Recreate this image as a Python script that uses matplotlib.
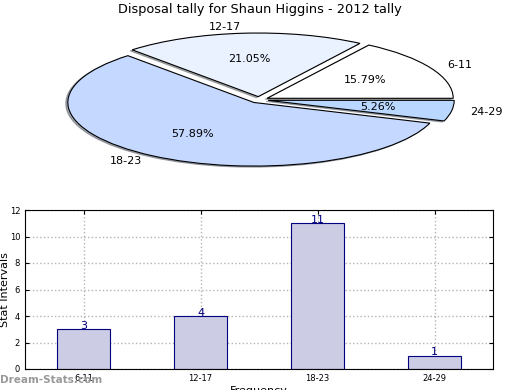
import matplotlib
matplotlib.use("Agg")
import matplotlib.pyplot as plt

# data
groups = ["6-11", "12-17", "18-23", "24-29"]
counts = [3, 4, 11, 1]
pie_colors = ["#ffffff", "#eaf1ff", "#c5d8ff", "#b9d7ff"]

W, H = 520, 390
fig = plt.figure(figsize=(W / 100, H / 100), dpi=100)

# pie (drawn squashed into an ellipse)
ax1 = fig.add_axes([0, 1 - 175 / H, 1, 150 / H])
ax1.pie(counts, labels=groups, colors=pie_colors, autopct="%.2f%%",
        explode=[0.05] * 4, shadow=dict(ox=-0.008, oy=-0.012, shade=0.6),
        startangle=0,
        wedgeprops=dict(edgecolor="black", linewidth=0.8),
        textprops=dict(fontsize=8))
ax1.set_aspect("auto")
ax1.set_xlim(-1.392, 1.403)
ax1.set_ylim(-1.182, 1.176)
ax1.axis("off")
fig.text(0.5, 1 - 10 / H, "Disposal tally for Shaun Higgins - 2012 tally",
         ha="center", va="center", fontsize=9.3)

# bars
ax2 = fig.add_axes([25 / W, 1 - 369 / H, 468 / W, 159 / H])
x = list(range(len(groups)))
ax2.bar(x, counts, width=0.45, color="#ccccE4", edgecolor="#000080", linewidth=0.8)
for xi, c in zip(x, counts):
    ax2.text(xi, c + 0.25, str(c), ha="center", va="center", color="#000080", fontsize=8)
ax2.set_xlim(-0.5, 3.5)
ax2.set_ylim(0, 12)
ax2.set_xticks(x)
ax2.set_xticklabels(groups)
ax2.set_yticks(range(0, 13, 2))
ax2.tick_params(labelsize=6, direction="in", length=3, top=True, right=True)
ax2.grid(True, ls=":", color="0.7", lw=1)
ax2.set_axisbelow(True)
ax2.set_ylabel("Stat Intervals", fontsize=8)
ax2.yaxis.set_label_coords(-0.031, 0.5)
ax2.set_xlabel("Frequency", fontsize=8, labelpad=2)

fig.text(0.0, 1 - 380 / H, "Dream-Stats.com", ha="left", va="center",
         fontsize=7.5, color="0.6", fontweight="bold")

fig.savefig("out.png", dpi=100)
